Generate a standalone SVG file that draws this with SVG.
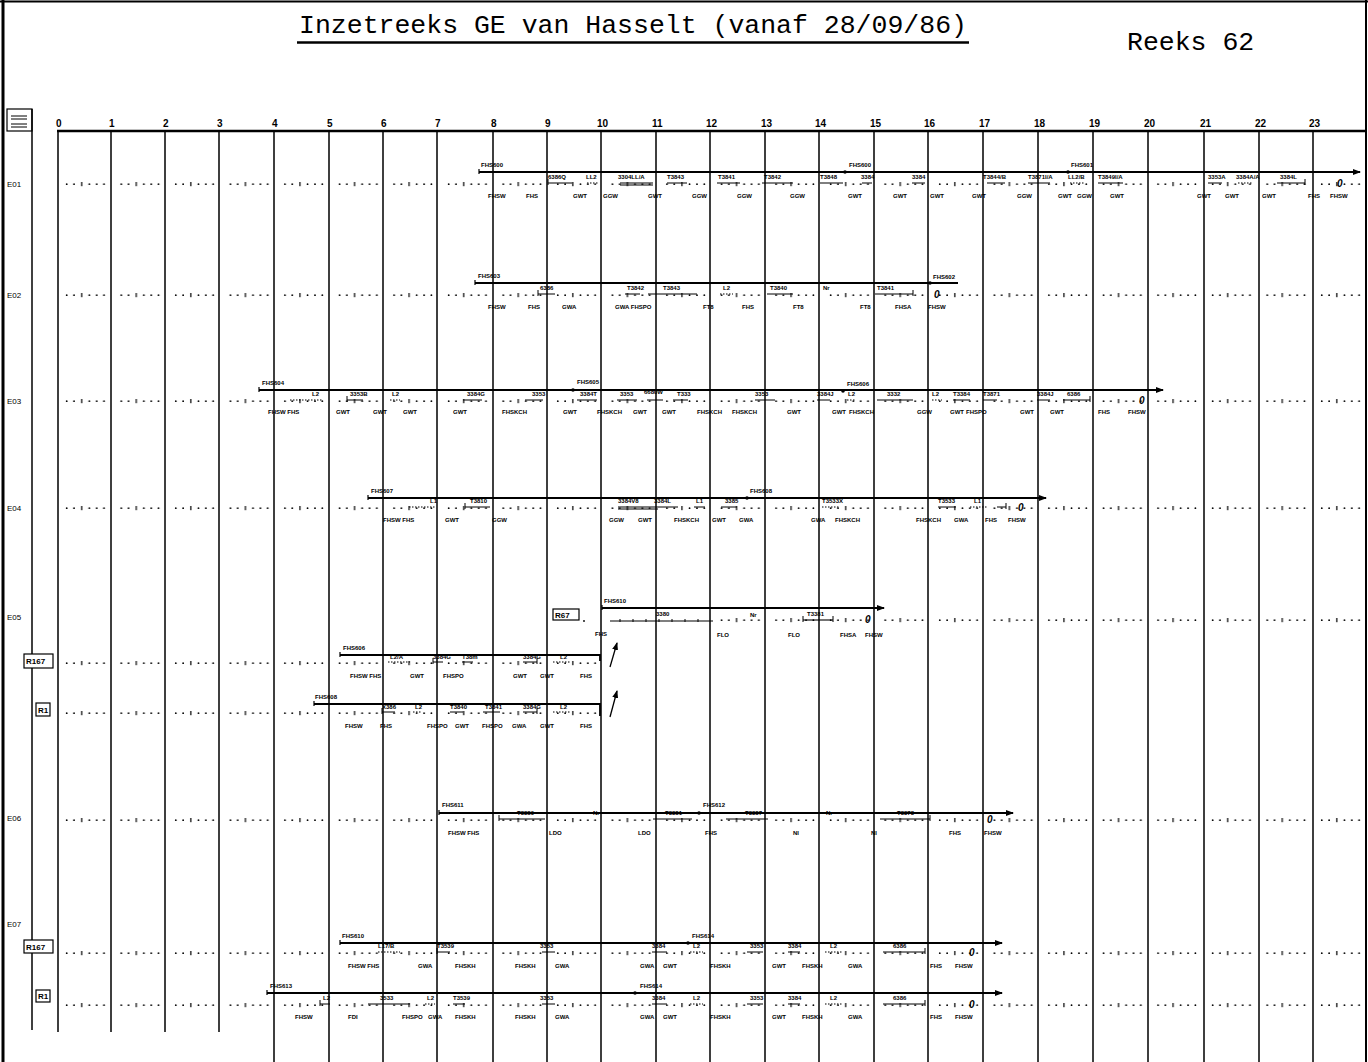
<svg xmlns="http://www.w3.org/2000/svg" width="1368" height="1062" viewBox="0 0 1368 1062">
<style>
.t{font-family:"Liberation Sans",Arial,sans-serif;font-weight:bold;font-size:6px;fill:#000}
.b{font-family:"Liberation Sans",Arial,sans-serif;font-weight:bold;font-size:6px;fill:#000}
.z{font-family:"Liberation Sans",Arial,sans-serif;font-weight:bold;font-style:italic;font-size:10px;fill:#000}
.rl{font-family:"Liberation Sans",Arial,sans-serif;font-size:8px;fill:#000}
.hr{font-family:"Liberation Sans",Arial,sans-serif;font-weight:bold;font-size:10px;fill:#000}
.ttl{font-family:"Liberation Mono","Courier New",monospace;font-size:26.5px;fill:#000}
.gl{stroke:#000;stroke-width:1.5;fill:none}
.sv{stroke:#000;stroke-width:1.8;fill:none}
.sg{stroke:#000;stroke-width:1.1;fill:none;marker-start:url(#tk);marker-end:url(#tk)}
.sd{stroke:#000;stroke-width:1.1;fill:none;stroke-dasharray:1.5 1.5}
.bx{fill:#fff;stroke:#000;stroke-width:1.2}
</style>
<defs>
<pattern id="dots" patternUnits="userSpaceOnUse" x="58" y="0" width="54.57" height="6">
<circle cx="8.7" cy="3.2" r="0.9" fill="#000"/>
<circle cx="16" cy="3.2" r="0.9" fill="#000"/>
<rect x="23.1" y="1" width="1.2" height="4.2" fill="#000"/>
<circle cx="31.3" cy="3.2" r="0.9" fill="#000"/>
<circle cx="38.7" cy="3.2" r="0.9" fill="#000"/>
<circle cx="46" cy="3.2" r="0.9" fill="#000"/>
</pattern>
<marker id="tk" viewBox="0 0 2 6" refX="1" refY="4" markerWidth="2" markerHeight="6" markerUnits="userSpaceOnUse" orient="auto"><path d="M1 0V6" stroke="#000" stroke-width="1"/></marker>
<marker id="ah" viewBox="0 0 8 6" refX="7" refY="3" markerWidth="8" markerHeight="6" markerUnits="userSpaceOnUse" orient="auto"><path d="M0 0L8 3L0 6z" fill="#000"/></marker>
</defs>
<rect x="0" y="0" width="1368" height="1062" fill="#fff"/>

<g id="frame">
<path d="M3 0V1062" stroke="#000" stroke-width="3"/>
<path d="M0 1.5H1368" stroke="#000" stroke-width="2"/>
<path d="M1366 0V1062" stroke="#000" stroke-width="2"/>
</g>

<g id="title">
<text class="ttl" x="633" y="33" text-anchor="middle">Inzetreeks GE van Hasselt (vanaf 28/09/86)</text>
<path d="M297 42.5H969" stroke="#000" stroke-width="2.5"/>
<text class="ttl" x="1127" y="50">Reeks 62</text>
</g>

<g id="grid">
<rect class="bx" x="7" y="109" width="25" height="22"/>
<path d="M11 116h16M11 119h16M11 124h16M11 127h16" stroke="#000" stroke-width="1"/>
<path d="M32 109V1030" class="gl"/>
<path d="M57 131H1366" stroke="#000" stroke-width="2.5"/>
<path class="gl" d="M58 131V1032M111 131V1032M165 131V1032M219 131V1032"/>
<path class="gl" d="M274 131V1062M329 131V1062M383 131V1062M437 131V1062M493 131V1062M547 131V1062M601 131V1062M656 131V1062M710 131V1062M765 131V1062M819 131V1062M874 131V1062M928 131V1062M983 131V1062M1038 131V1062M1093 131V1062M1148 131V1062M1204 131V1062M1259 131V1062M1313 131V1062"/>
<text class="hr" x="56" y="127">0</text>
<text class="hr" x="109" y="127">1</text>
<text class="hr" x="163" y="127">2</text>
<text class="hr" x="217" y="127">3</text>
<text class="hr" x="272" y="127">4</text>
<text class="hr" x="327" y="127">5</text>
<text class="hr" x="381" y="127">6</text>
<text class="hr" x="435" y="127">7</text>
<text class="hr" x="491" y="127">8</text>
<text class="hr" x="545" y="127">9</text>
<text class="hr" x="597" y="127">10</text>
<text class="hr" x="652" y="127">11</text>
<text class="hr" x="706" y="127">12</text>
<text class="hr" x="761" y="127">13</text>
<text class="hr" x="815" y="127">14</text>
<text class="hr" x="870" y="127">15</text>
<text class="hr" x="924" y="127">16</text>
<text class="hr" x="979" y="127">17</text>
<text class="hr" x="1034" y="127">18</text>
<text class="hr" x="1089" y="127">19</text>
<text class="hr" x="1144" y="127">20</text>
<text class="hr" x="1200" y="127">21</text>
<text class="hr" x="1255" y="127">22</text>
<text class="hr" x="1309" y="127">23</text>
</g>

<g id="row-E01">
<text class="rl" x="7" y="187">E01</text>
<g transform="translate(0,181)"><rect x="62" y="0" width="1304" height="6" fill="url(#dots)"/></g>
<path class="sv" d="M479 172H1360" marker-end="url(#ah)"/>
<path d="M479 169v5" stroke="#000" stroke-width="1.2"/>
<circle cx="845" cy="172" r="1.8"/><circle cx="1068" cy="172" r="1.8"/>
<text class="t" x="481" y="167">FHS600</text>
<text class="t" x="849" y="167">FHS600</text>
<text class="t" x="1071" y="167">FHS601</text>
<path class="sg" d="M548 183h24M620 183h33M667 183h20M717 183h23M762 183h31M820 183h23M862 183h10M912 183h13M987 183h18M1028 183h22M1098 183h25M1208 183h14M1277 183h28"/>
<path class="sd" d="M587 183h11M1070 183h15M1238 183h15"/>
<path d="M620 185h33" stroke="#000" stroke-width="1"/>
<text class="t" x="548" y="179">6386Q</text>
<text class="t" x="586" y="179">LL2</text>
<text class="t" x="618" y="179">3304LL/A</text>
<text class="t" x="667" y="179">T3843</text>
<text class="t" x="718" y="179">T3841</text>
<text class="t" x="764" y="179">T3842</text>
<text class="t" x="820" y="179">T3848</text>
<text class="t" x="861" y="179">3384</text>
<text class="t" x="912" y="179">3384</text>
<text class="t" x="983" y="179">T3844/B</text>
<text class="t" x="1028" y="179">T3871I/A</text>
<text class="t" x="1068" y="179">LL2/B</text>
<text class="t" x="1098" y="179">T3849I/A</text>
<text class="t" x="1208" y="179">3353A</text>
<text class="t" x="1236" y="179">3384A/A</text>
<text class="t" x="1280" y="179">3384L</text>
<text class="z" x="1337" y="187">0</text>
<text class="b" x="488" y="198">FHSW</text><text class="b" x="526" y="198">FHS</text><text class="b" x="573" y="198">GWT</text><text class="b" x="603" y="198">GGW</text><text class="b" x="648" y="198">GWT</text><text class="b" x="692" y="198">GGW</text><text class="b" x="737" y="198">GGW</text><text class="b" x="790" y="198">GGW</text><text class="b" x="848" y="198">GWT</text><text class="b" x="893" y="198">GWT</text><text class="b" x="930" y="198">GWT</text><text class="b" x="972" y="198">GWT</text><text class="b" x="1017" y="198">GGW</text><text class="b" x="1058" y="198">GWT</text><text class="b" x="1077" y="198">GGW</text><text class="b" x="1110" y="198">GWT</text><text class="b" x="1197" y="198">GWT</text><text class="b" x="1225" y="198">GWT</text><text class="b" x="1262" y="198">GWT</text><text class="b" x="1308" y="198">FHS</text><text class="b" x="1330" y="198">FHSW</text>
</g>

<g id="row-E02">
<text class="rl" x="7" y="298">E02</text>
<g transform="translate(0,292)"><rect x="62" y="0" width="1304" height="6" fill="url(#dots)"/></g>
<path class="sv" d="M475 283H958"/>
<path d="M475 280v5" stroke="#000" stroke-width="1.2"/>
<circle cx="930" cy="283" r="1.8"/>
<text class="t" x="478" y="278">FHS603</text>
<text class="t" x="933" y="279">FHS602</text>
<path class="sg" d="M538 294h17M625 294h15M648 294h49M767 294h26M875 294h38"/>
<path class="sd" d="M720 294h13"/>
<text class="t" x="540" y="290">6386</text>
<text class="t" x="627" y="290">T3842</text>
<text class="t" x="663" y="290">T3843</text>
<text class="t" x="723" y="290">L2</text>
<text class="t" x="770" y="290">T3840</text>
<text class="t" x="823" y="290">Nr</text>
<text class="t" x="877" y="290">T3841</text>
<text class="z" x="934" y="298">0</text>
<text class="b" x="488" y="309">FHSW</text><text class="b" x="528" y="309">FHS</text><text class="b" x="562" y="309">GWA</text><text class="b" x="615" y="309">GWA FHSPO</text><text class="b" x="703" y="309">FT8</text><text class="b" x="742" y="309">FHS</text><text class="b" x="793" y="309">FT8</text><text class="b" x="860" y="309">FT8</text><text class="b" x="895" y="309">FHSA</text><text class="b" x="928" y="309">FHSW</text>
</g>

<g id="row-E03">
<text class="rl" x="7" y="404">E03</text>
<g transform="translate(0,398)"><rect x="62" y="0" width="1304" height="6" fill="url(#dots)"/></g>
<path class="sv" d="M259 390H1163" marker-end="url(#ah)"/>
<path d="M259 387v5" stroke="#000" stroke-width="1.2"/>
<circle cx="573" cy="390" r="1.8"/><circle cx="843" cy="391" r="1.8"/>
<text class="t" x="262" y="385">FHS604</text>
<text class="t" x="577" y="384">FHS605</text>
<text class="t" x="847" y="386">FHS606</text>
<path class="sg" d="M347 400h16M463 400h19M525 400h18M577 400h20M617 400h20M647 400h16M673 400h15M755 400h20M817 400h13M877 400h36M953 400h17M983 400h14M1037 400h13M1063 400h27"/>
<path class="sd" d="M290 400h32M390 400h10M847 400h8M932 400h10"/>
<text class="t" x="312" y="396">L2</text>
<text class="t" x="350" y="396">3353B</text>
<text class="t" x="392" y="396">L2</text>
<text class="t" x="467" y="396">3384G</text>
<text class="t" x="532" y="396">3353</text>
<text class="t" x="580" y="396">3384T</text>
<text class="t" x="620" y="396">3353</text>
<text class="t" x="644" y="394">6680W</text>
<text class="t" x="677" y="396">T333</text>
<text class="t" x="755" y="396">3353</text>
<text class="t" x="817" y="396">3384J</text>
<text class="t" x="848" y="396">L2</text>
<text class="t" x="887" y="396">3332</text>
<text class="t" x="932" y="396">L2</text>
<text class="t" x="953" y="396">T3384</text>
<text class="t" x="983" y="396">T3871</text>
<text class="t" x="1037" y="396">3384J</text>
<text class="t" x="1067" y="396">6386</text>
<text class="z" x="1139" y="404">0</text>
<text class="b" x="268" y="414">FHSW FHS</text><text class="b" x="336" y="414">GWT</text><text class="b" x="373" y="414">GWT</text><text class="b" x="403" y="414">GWT</text><text class="b" x="453" y="414">GWT</text><text class="b" x="502" y="414">FHSKCH</text><text class="b" x="563" y="414">GWT</text><text class="b" x="597" y="414">FHSKCH</text><text class="b" x="633" y="414">GWT</text><text class="b" x="662" y="414">GWT</text><text class="b" x="697" y="414">FHSKCH</text><text class="b" x="732" y="414">FHSKCH</text><text class="b" x="787" y="414">GWT</text><text class="b" x="832" y="414">GWT</text><text class="b" x="849" y="414">FHSKCH</text><text class="b" x="917" y="414">GGW</text><text class="b" x="950" y="414">GWT</text><text class="b" x="966" y="414">FHSPO</text><text class="b" x="1020" y="414">GWT</text><text class="b" x="1050" y="414">GWT</text><text class="b" x="1098" y="414">FHS</text><text class="b" x="1128" y="414">FHSW</text>
</g>

<g id="row-E04">
<text class="rl" x="7" y="511">E04</text>
<g transform="translate(0,505)"><rect x="62" y="0" width="1304" height="6" fill="url(#dots)"/></g>
<path class="sv" d="M368 498H1046" marker-end="url(#ah)"/>
<path d="M368 495v5" stroke="#000" stroke-width="1.2"/>
<circle cx="747" cy="498" r="1.8"/>
<text class="t" x="371" y="493">FHS607</text>
<text class="t" x="750" y="493">FHS608</text>
<path class="sg" d="M465 507h25M618 507h60M694 507h11M721 507h16M938 507h18M997 507h9"/>
<path class="sd" d="M409 507h27M822 507h18M970 507h18"/>
<path d="M618 509h40" stroke="#000" stroke-width="1"/>
<text class="t" x="430" y="503">L1</text>
<text class="t" x="470" y="503">T3810</text>
<text class="t" x="618" y="503">3384V8</text>
<text class="t" x="654" y="503">3384L</text>
<text class="t" x="696" y="503">L1</text>
<text class="t" x="725" y="503">3385</text>
<text class="t" x="822" y="503">T3533X</text>
<text class="t" x="938" y="503">T3533</text>
<text class="t" x="974" y="503">L1</text>
<text class="z" x="1018" y="511">0</text>
<text class="b" x="383" y="522">FHSW FHS</text><text class="b" x="445" y="522">GWT</text><text class="b" x="492" y="522">GGW</text><text class="b" x="609" y="522">GGW</text><text class="b" x="638" y="522">GWT</text><text class="b" x="674" y="522">FHSKCH</text><text class="b" x="712" y="522">GWT</text><text class="b" x="739" y="522">GWA</text><text class="b" x="811" y="522">GWA</text><text class="b" x="835" y="522">FHSKCH</text><text class="b" x="916" y="522">FHSKCH</text><text class="b" x="954" y="522">GWA</text><text class="b" x="985" y="522">FHS</text><text class="b" x="1008" y="522">FHSW</text>
</g>

<g id="row-E05">
<text class="rl" x="7" y="620">E05</text>
<rect class="bx" x="553" y="609" width="26" height="11"/>
<text class="rl" x="555" y="618" font-weight="bold">R67</text>
<circle cx="584" cy="621" r="0.9"/>
<g transform="translate(0,617)"><rect x="713" y="0" width="653" height="6" fill="url(#dots)"/></g>
<path class="sv" d="M602 608H884" marker-end="url(#ah)"/>
<path d="M602 605v5" stroke="#000" stroke-width="1.2"/>
<text class="t" x="604" y="603">FHS610</text>
<path d="M610 621H713" stroke="#000" stroke-width="1.1"/>
<path d="M620 619v3M633 619v3M646 619v3M659 619v3M672 619v3M685 619v3M698 619v3" stroke="#000" stroke-width="1"/>
<path class="sg" d="M803 620h30"/>
<text class="t" x="656" y="616">3380</text>
<text class="t" x="750" y="617">Nr</text>
<text class="t" x="807" y="616">T3381</text>
<text class="z" x="865" y="623">0</text>
<text class="b" x="595" y="636">FHS</text><text class="b" x="717" y="637">FLO</text><text class="b" x="788" y="637">FLO</text><text class="b" x="840" y="637">FHSA</text><text class="b" x="865" y="637">FHSW</text>
</g>

<g id="row-R167a">
<rect class="bx" x="24" y="654" width="29" height="14"/>
<text class="rl" x="26" y="664" font-weight="bold">R167</text>
<g transform="translate(0,660)"><rect x="62" y="0" width="538" height="6" fill="url(#dots)"/></g>
<path class="sv" d="M340 655H600V661"/>
<path d="M340 652v5" stroke="#000" stroke-width="1.2"/>
<text class="t" x="343" y="650">FHS606</text>
<path class="sg" d="M433 662h10M462 662h11M523 662h14"/>
<path class="sd" d="M388 662h22M553 662h17"/>
<text class="t" x="390" y="659">L2/A</text>
<text class="t" x="433" y="659">3384G</text>
<text class="t" x="462" y="659">T38m</text>
<text class="t" x="523" y="659">3384G</text>
<text class="t" x="560" y="659">L2</text>
<text class="b" x="350" y="678">FHSW FHS</text><text class="b" x="410" y="678">GWT</text><text class="b" x="443" y="678">FHSPO</text><text class="b" x="513" y="678">GWT</text><text class="b" x="540" y="678">GWT</text><text class="b" x="580" y="678">FHS</text>
</g>

<g id="row-R1a">
<rect class="bx" x="36" y="703" width="14" height="13"/>
<text class="rl" x="38" y="713" font-weight="bold">R1</text>
<g transform="translate(0,710)"><rect x="62" y="0" width="538" height="6" fill="url(#dots)"/></g>
<path class="sv" d="M314 704H600V716"/>
<path d="M314 701v5" stroke="#000" stroke-width="1.2"/>
<text class="t" x="315" y="699">FHS608</text>
<path class="sg" d="M382 712h13M450 712h13M483 712h17M523 712h14"/>
<path class="sd" d="M413 712h9M553 712h17"/>
<text class="t" x="382" y="709">X386</text>
<text class="t" x="415" y="709">L2</text>
<text class="t" x="450" y="709">T3840</text>
<text class="t" x="485" y="709">T3841</text>
<text class="t" x="523" y="709">3384G</text>
<text class="t" x="560" y="709">L2</text>
<text class="b" x="345" y="728">FHSW</text><text class="b" x="380" y="728">FHS</text><text class="b" x="427" y="728">FHSPO</text><text class="b" x="455" y="728">GWT</text><text class="b" x="482" y="728">FHSPO</text><text class="b" x="512" y="728">GWA</text><text class="b" x="540" y="728">GWT</text><text class="b" x="580" y="728">FHS</text>
</g>

<g id="row-E06">
<text class="rl" x="7" y="821">E06</text>
<g transform="translate(0,817)"><rect x="62" y="0" width="1304" height="6" fill="url(#dots)"/></g>
<path class="sv" d="M439 813H1013" marker-end="url(#ah)"/>
<path d="M439 810v5" stroke="#000" stroke-width="1.2"/>
<circle cx="699" cy="813" r="1.8"/>
<text class="t" x="442" y="807">FHS611</text>
<text class="t" x="703" y="807">FHS612</text>
<path class="sg" d="M499 819h46M653 819h39M726 819h42M880 819h50"/>
<text class="t" x="517" y="815">T3380</text>
<text class="t" x="593" y="815">Nr</text>
<text class="t" x="665" y="815">T3381</text>
<text class="t" x="745" y="815">T3387</text>
<text class="t" x="826" y="815">Nr</text>
<text class="t" x="897" y="815">T3373</text>
<text class="z" x="987" y="823">0</text>
<text class="b" x="448" y="835">FHSW FHS</text><text class="b" x="549" y="835">LDO</text><text class="b" x="638" y="835">LDO</text><text class="b" x="705" y="835">FHS</text><text class="b" x="793" y="835">Nl</text><text class="b" x="871" y="835">Nl</text><text class="b" x="949" y="835">FHS</text><text class="b" x="984" y="835">FHSW</text>
</g>

<g id="row-E07">
<text class="rl" x="7" y="927" fill="#aaa">E07</text>
</g>

<g id="row-R167b">
<rect class="bx" x="24" y="940" width="29" height="13"/>
<text class="rl" x="26" y="950" font-weight="bold">R167</text>
<g transform="translate(0,950)"><rect x="62" y="0" width="1304" height="6" fill="url(#dots)"/></g>
<path class="sv" d="M340 943H1002" marker-end="url(#ah)"/>
<path d="M340 940v5" stroke="#000" stroke-width="1.2"/>
<circle cx="688" cy="943" r="1.8"/>
<text class="t" x="342" y="938">FHS610</text>
<text class="t" x="692" y="938">FHS614</text>
<path class="sg" d="M437 952h13M542 952h13M652 952h15M747 952h16M788 952h12M883 952h42"/>
<path class="sd" d="M378 952h22M690 952h13M825 952h18"/>
<text class="t" x="378" y="948">L17/B</text>
<text class="t" x="437" y="948">T3539</text>
<text class="t" x="540" y="948">3353</text>
<text class="t" x="652" y="948">3384</text>
<text class="t" x="693" y="948">L2</text>
<text class="t" x="750" y="948">3353</text>
<text class="t" x="788" y="948">3384</text>
<text class="t" x="830" y="948">L2</text>
<text class="t" x="893" y="948">6386</text>
<text class="z" x="969" y="956">0</text>
<text class="b" x="348" y="968">FHSW FHS</text><text class="b" x="418" y="968">GWA</text><text class="b" x="455" y="968">FHSKH</text><text class="b" x="515" y="968">FHSKH</text><text class="b" x="555" y="968">GWA</text><text class="b" x="640" y="968">GWA</text><text class="b" x="663" y="968">GWT</text><text class="b" x="710" y="968">FHSKH</text><text class="b" x="772" y="968">GWT</text><text class="b" x="802" y="968">FHSKH</text><text class="b" x="848" y="968">GWA</text><text class="b" x="930" y="968">FHS</text><text class="b" x="955" y="968">FHSW</text>
</g>

<g id="row-R1b">
<rect class="bx" x="36" y="990" width="14" height="12"/>
<text class="rl" x="38" y="999" font-weight="bold">R1</text>
<g transform="translate(0,1002)"><rect x="62" y="0" width="1304" height="6" fill="url(#dots)"/></g>
<path class="sv" d="M267 993H1002" marker-end="url(#ah)"/>
<path d="M267 990v5" stroke="#000" stroke-width="1.2"/>
<circle cx="635" cy="993" r="1.8"/>
<text class="t" x="270" y="988">FHS613</text>
<text class="t" x="640" y="988">FHS614</text>
<path class="sg" d="M320 1004h10M368 1004h42M453 1004h12M542 1004h13M652 1004h15M747 1004h16M788 1004h12M883 1004h42"/>
<path class="sd" d="M425 1004h10M690 1004h13M825 1004h18"/>
<text class="t" x="323" y="1000">L2</text>
<text class="t" x="380" y="1000">3533</text>
<text class="t" x="427" y="1000">L2</text>
<text class="t" x="453" y="1000">T3539</text>
<text class="t" x="540" y="1000">3353</text>
<text class="t" x="652" y="1000">3384</text>
<text class="t" x="693" y="1000">L2</text>
<text class="t" x="750" y="1000">3353</text>
<text class="t" x="788" y="1000">3384</text>
<text class="t" x="830" y="1000">L2</text>
<text class="t" x="893" y="1000">6386</text>
<text class="z" x="969" y="1008">0</text>
<text class="b" x="295" y="1019">FHSW</text><text class="b" x="348" y="1019">FDI</text><text class="b" x="402" y="1019">FHSPO</text><text class="b" x="428" y="1019">GWA</text><text class="b" x="455" y="1019">FHSKH</text><text class="b" x="515" y="1019">FHSKH</text><text class="b" x="555" y="1019">GWA</text><text class="b" x="640" y="1019">GWA</text><text class="b" x="663" y="1019">GWT</text><text class="b" x="710" y="1019">FHSKH</text><text class="b" x="772" y="1019">GWT</text><text class="b" x="802" y="1019">FHSKH</text><text class="b" x="848" y="1019">GWA</text><text class="b" x="930" y="1019">FHS</text><text class="b" x="955" y="1019">FHSW</text>
</g>

<g id="connectors">
<path d="M610 667L617 643" stroke="#000" stroke-width="1.3" marker-end="url(#ah)"/>
<path d="M610 717L617 691" stroke="#000" stroke-width="1.3" marker-end="url(#ah)"/>
</g>
</svg>
